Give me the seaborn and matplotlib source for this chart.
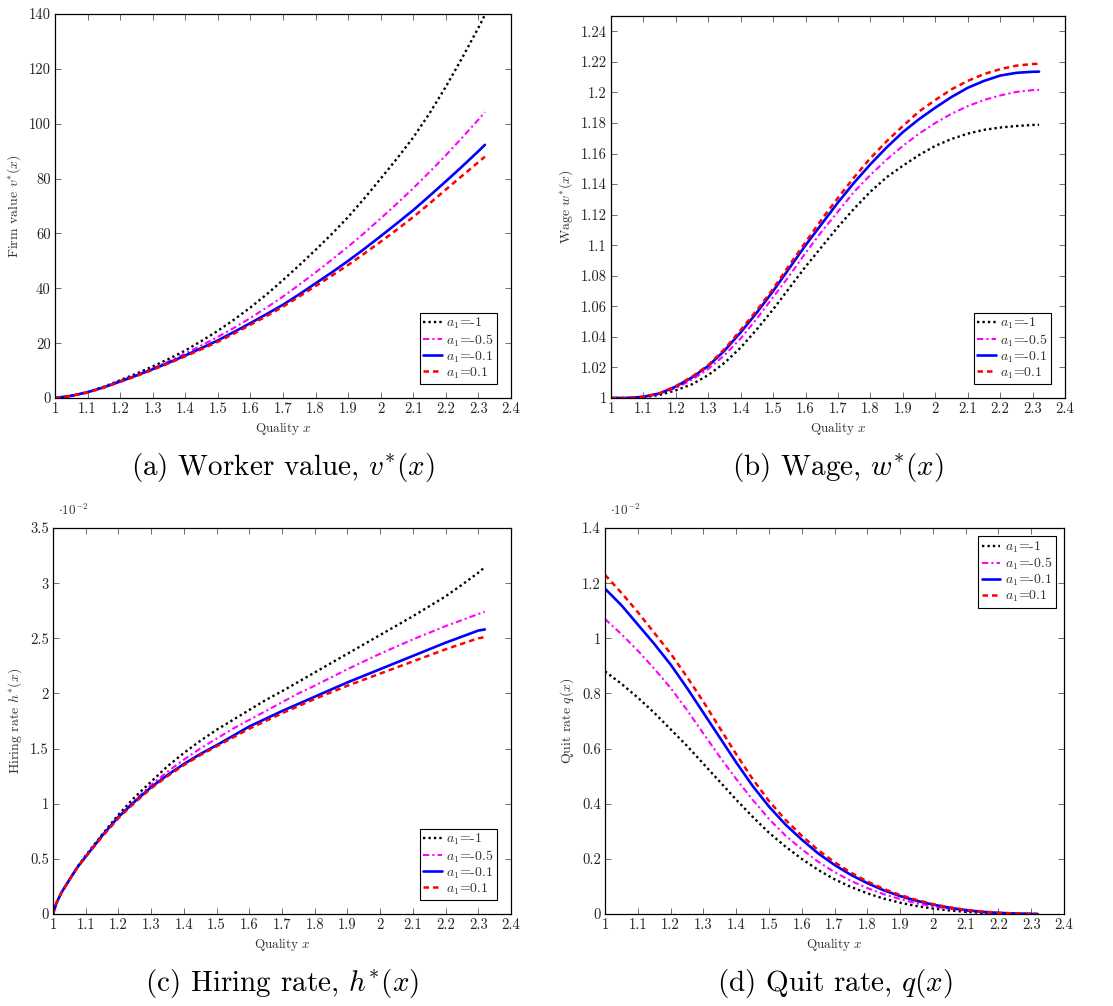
import numpy as np
import pandas as pd
import matplotlib
matplotlib.use("Agg")
import matplotlib.pyplot as plt
from matplotlib.ticker import FuncFormatter, MultipleLocator
import seaborn as sns

# ---------------- data ----------------
quality = [1.0, 1.05, 1.1, 1.15, 1.2, 1.25, 1.3, 1.35, 1.4, 1.45, 1.5, 1.55, 1.6, 1.65,
           1.7, 1.75, 1.8, 1.85, 1.9, 1.95, 2.0, 2.05, 2.1, 2.15, 2.2, 2.25, 2.3, 2.32]
quality_hire = [1.0, 1.01, 1.025, 1.05, 1.075, 1.1, 1.15, 1.2, 1.25, 1.3, 1.35, 1.4, 1.45,
                1.5, 1.55, 1.6, 1.65, 1.7, 1.75, 1.8, 1.85, 1.9, 1.95, 2.0, 2.05, 2.1,
                2.15, 2.2, 2.25, 2.3, 2.32]
series_labels = ["$a_1$=-1", "$a_1$=-0.5", "$a_1$=-0.1", "$a_1$=0.1"]

# (a) firm / worker value v*(x)
value_a1_m1  = [0, 0.8, 2.2, 4.1, 6.5, 8.9, 11.5, 14.3, 17.3, 20.8, 24.5, 28.6, 33.0, 37.8,
                43.0, 48.4, 54.0, 59.8, 66.0, 72.8, 80.0, 87.3, 95.0, 103.8, 113.5, 124.0, 135.0, 139.7]
value_a1_m05 = [0, 0.8, 2.1, 4.0, 6.2, 8.4, 10.8, 13.4, 16.2, 19.2, 22.3, 25.6, 29.2, 33.0,
                37.0, 41.3, 45.8, 50.4, 55.2, 60.2, 65.5, 70.9, 76.5, 82.4, 88.5, 94.9, 101.5, 104.2]
value_a1_m01 = [0, 0.8, 2.1, 3.9, 6.0, 8.2, 10.5, 12.9, 15.5, 18.2, 21.0, 24.1, 27.3, 30.6,
                34.0, 37.8, 41.8, 45.8, 50.0, 54.4, 59.0, 63.7, 68.5, 73.7, 79.0, 84.4, 90.0, 92.3]
value_a1_p01 = [0, 0.8, 2.0, 3.8, 5.9, 8.0, 10.3, 12.7, 15.2, 17.8, 20.5, 23.5, 26.7, 29.9,
                33.3, 37.0, 40.8, 44.6, 48.5, 52.7, 57.0, 61.4, 66.0, 70.9, 76.0, 81.0, 86.0, 88.0]

# (b) wage w*(x)
wage_a1_m1  = [1.0, 1.0, 1.0005, 1.002, 1.005, 1.009, 1.015, 1.023, 1.033, 1.045, 1.058, 1.072,
               1.086, 1.099, 1.112, 1.124, 1.135, 1.1445, 1.152, 1.159, 1.165, 1.1695, 1.173,
               1.1755, 1.177, 1.178, 1.1787, 1.1788]
wage_a1_m05 = [1.0, 1.0, 1.0007, 1.0027, 1.0065, 1.012, 1.019, 1.028, 1.039, 1.052, 1.066, 1.080,
               1.095, 1.109, 1.122, 1.135, 1.146, 1.156, 1.165, 1.173, 1.180, 1.186, 1.191,
               1.195, 1.198, 1.2003, 1.2015, 1.2016]
wage_a1_m01 = [1.0, 1.0, 1.0008, 1.003, 1.0075, 1.0135, 1.021, 1.031, 1.043, 1.056, 1.070, 1.085,
               1.100, 1.114, 1.128, 1.141, 1.153, 1.164, 1.174, 1.1825, 1.190, 1.197, 1.203,
               1.2075, 1.211, 1.2128, 1.2135, 1.2136]
wage_a1_p01 = [1.0, 1.0, 1.0008, 1.0031, 1.0078, 1.014, 1.0215, 1.032, 1.0445, 1.0575, 1.0715, 1.087,
               1.102, 1.117, 1.131, 1.1445, 1.157, 1.168, 1.178, 1.1875, 1.195, 1.202, 1.2075,
               1.212, 1.2152, 1.2175, 1.2186, 1.2187]

# (c) hiring rate h*(x), in units of 1e-2
hire_a1_m1  = [0, 0.095, 0.19, 0.31, 0.43, 0.53, 0.72, 0.90, 1.06, 1.20, 1.34, 1.46, 1.57,
               1.67, 1.76, 1.85, 1.94, 2.02, 2.105, 2.19, 2.275, 2.36, 2.445, 2.53, 2.615,
               2.70, 2.79, 2.88, 2.985, 3.095, 3.145]
hire_a1_m05 = [0, 0.095, 0.19, 0.31, 0.425, 0.52, 0.71, 0.88, 1.03, 1.17, 1.29, 1.40, 1.50,
               1.59, 1.68, 1.76, 1.84, 1.92, 2.00, 2.07, 2.145, 2.22, 2.29, 2.36, 2.425,
               2.49, 2.55, 2.61, 2.665, 2.72, 2.74]
hire_a1_m01 = [0, 0.095, 0.19, 0.31, 0.425, 0.52, 0.71, 0.88, 1.02, 1.15, 1.26, 1.36, 1.45,
               1.53, 1.615, 1.70, 1.77, 1.84, 1.905, 1.97, 2.035, 2.10, 2.16, 2.22, 2.28,
               2.34, 2.40, 2.46, 2.515, 2.57, 2.58]
hire_a1_p01 = [0, 0.095, 0.19, 0.31, 0.425, 0.52, 0.70, 0.87, 1.01, 1.14, 1.25, 1.35, 1.44,
               1.52, 1.60, 1.68, 1.75, 1.82, 1.885, 1.95, 2.01, 2.07, 2.125, 2.18, 2.235,
               2.29, 2.345, 2.40, 2.45, 2.50, 2.51]

# (d) quit rate q(x), in units of 1e-2
quit_a1_m1  = [0.88, 0.835, 0.785, 0.73, 0.67, 0.61, 0.545, 0.48, 0.415, 0.353, 0.295, 0.245,
               0.200, 0.160, 0.126, 0.098, 0.075, 0.056, 0.041, 0.029, 0.020, 0.013, 0.008,
               0.004, 0.002, 0.0008, 0.0001, 0.0]
quit_a1_m05 = [1.07, 1.015, 0.955, 0.89, 0.82, 0.74, 0.655, 0.57, 0.49, 0.415, 0.345, 0.285,
               0.235, 0.190, 0.152, 0.120, 0.094, 0.072, 0.054, 0.039, 0.028, 0.019, 0.012,
               0.007, 0.0035, 0.0015, 0.0003, 0.0]
quit_a1_m01 = [1.18, 1.12, 1.05, 0.98, 0.905, 0.82, 0.73, 0.64, 0.55, 0.465, 0.39, 0.325,
               0.270, 0.220, 0.178, 0.142, 0.112, 0.086, 0.065, 0.048, 0.034, 0.023, 0.014,
               0.008, 0.004, 0.0018, 0.0004, 0.0]
quit_a1_p01 = [1.23, 1.165, 1.095, 1.02, 0.945, 0.86, 0.77, 0.675, 0.58, 0.49, 0.41, 0.342,
               0.284, 0.232, 0.188, 0.150, 0.118, 0.091, 0.069, 0.051, 0.036, 0.024, 0.015,
               0.009, 0.0045, 0.002, 0.0004, 0.0]

# ---------------- style ----------------
sns.set_style("ticks")
plt.rcParams.update({
    "font.family": "serif",
    "font.serif": ["cmr10", "DejaVu Serif"],
    "mathtext.fontset": "cm",
    "axes.formatter.use_mathtext": True,
    "axes.edgecolor": "black",
    "axes.linewidth": 0.9,
    "xtick.direction": "in",
    "ytick.direction": "in",
    "xtick.top": True,
    "ytick.right": True,
    "xtick.color": "#555555",
    "ytick.color": "#555555",
    "xtick.labelcolor": "#222222",
    "ytick.labelcolor": "#222222",
    "xtick.major.size": 4,
    "ytick.major.size": 4,
    "xtick.major.width": 0.6,
    "ytick.major.width": 0.6,
})

colors = ["black", "magenta", "blue", "red"]
dashes = [(0, (1, 1.3)), (0, (3, 1.5, 1, 1.5)), "-", (0, (2.2, 1.6))]
widths = [1.7, 1.5, 1.9, 1.8]

fig = plt.figure(figsize=(11.13, 10.06), dpi=100)
W, H = 1113.0, 1006.0
def add_ax(l, t, r, b):
    return fig.add_axes([l / W, 1 - b / H, (r - l) / W, (b - t) / H])

ax_a = add_ax(55, 14, 511, 398)
ax_b = add_ax(611, 16, 1065, 398)
ax_c = add_ax(53, 528, 511, 914)
ax_d = add_ax(605, 528, 1064, 914)

fmt = FuncFormatter(lambda v, p: f"{v:.4g}" if abs(v) > 1e-12 else "0")

panels = [
    (ax_a, quality, [value_a1_m1, value_a1_m05, value_a1_m01, value_a1_p01], (0, 140), 20,
     "Firm value $v^{*}(x)$", "(a) Worker value, $v^{*}(x)$", "lower right", False, 1.0),
    (ax_b, quality, [wage_a1_m1, wage_a1_m05, wage_a1_m01, wage_a1_p01], (1, 1.25), 0.02,
     "Wage $w^{*}(x)$", "(b) Wage, $w^{*}(x)$", "lower right", False, 1.0),
    (ax_c, quality_hire, [hire_a1_m1, hire_a1_m05, hire_a1_m01, hire_a1_p01], (0, 3.5), 0.5,
     "Hiring rate $h^{*}(x)$", "(c) Hiring rate, $h^{*}(x)$", "lower right", True, 1.0),
    (ax_d, quality, [quit_a1_m1, quit_a1_m05, quit_a1_m01, quit_a1_p01], (0, 1.4), 0.2,
     "Quit rate $q(x)$", "(d) Quit rate, $q(x)$", "upper right", True, 0.6),
]

for ax, xs, ys, ylim, ystep, ylabel, caption, loc, sci, bap in panels:
    for y, lab, c, ls, lw in zip(ys, series_labels, colors, dashes, widths):
        df = pd.DataFrame({"x": xs, "y": y})
        sns.lineplot(data=df, x="x", y="y", ax=ax, color=c, linestyle=ls,
                     linewidth=lw, label=lab, sort=False)
    ax.set_xlim(1, 2.4)
    ax.set_ylim(*ylim)
    ax.xaxis.set_major_locator(MultipleLocator(0.1))
    ax.yaxis.set_major_locator(MultipleLocator(ystep))
    ax.xaxis.set_major_formatter(fmt)
    ax.yaxis.set_major_formatter(fmt)
    ax.tick_params(labelsize=10.5, pad=3)
    ax.set_xlabel("Quality $x$", fontsize=9.5, color="#333333", labelpad=3)
    ax.set_ylabel(ylabel, fontsize=10, color="#333333", labelpad=4)
    for s in ax.spines.values():
        s.set_visible(True)
        s.set_color("black")
    leg = ax.legend(loc=loc, fontsize=10, frameon=True, fancybox=False,
                    edgecolor="black", framealpha=1, handlelength=1.35,
                    handletextpad=0.3, borderpad=0.25, labelspacing=0.05,
                    borderaxespad=bap)
    leg.get_frame().set_linewidth(0.8)
    for t in leg.get_texts():
        t.set_color("#333333")
    if sci:
        ax.text(0.01, 1.025, r"$\cdot 10^{-2}$", transform=ax.transAxes,
                fontsize=9.5, color="#333333", ha="left", va="bottom")
    bb = ax.get_position()
    cap_y = bb.y0 - 69 / H
    fig.text(bb.x0 + bb.width / 2, cap_y, caption, fontsize=21,
             ha="center", va="center", color="black")

fig.savefig("out.png", dpi=100)
